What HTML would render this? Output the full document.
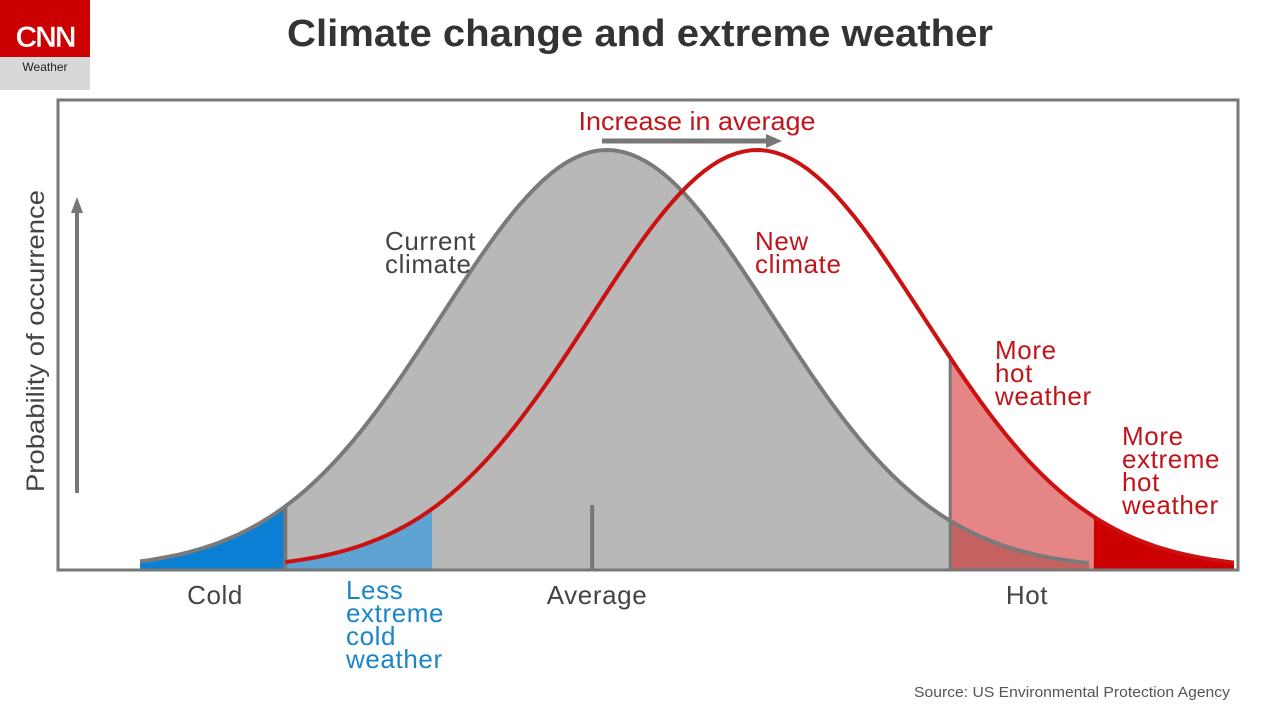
<!DOCTYPE html>
<html><head><meta charset="utf-8"><style>
html,body{margin:0;padding:0;background:#fff;}
body{width:1280px;height:720px;overflow:hidden;font-family:"Liberation Sans",sans-serif;}
svg text{font-family:"Liberation Sans",sans-serif;}
</style></head><body>
<svg id="chart" width="1280" height="720" viewBox="0 0 1280 720">
<g>
<rect x="0" y="0" width="90" height="57" fill="#cc0000"/>
<rect x="0" y="57" width="90" height="33" fill="#d8d8d8"/>
<text x="45" y="47" text-anchor="middle" font-size="30" font-weight="bold" fill="#fff" stroke="#cc0000" stroke-width="0.5" letter-spacing="-2">CNN</text>
<text x="45" y="71" text-anchor="middle" font-size="12" fill="#222">Weather</text>
</g>
<text x="640" y="46" text-anchor="middle" font-size="38" font-weight="bold" fill="#333" textLength="706" lengthAdjust="spacingAndGlyphs">Climate change and extreme weather</text>
<g id="plot"></g>
<rect x="58" y="100" width="1180" height="470" fill="none" stroke="#777" stroke-width="3"/>
<g>
<line x1="77" y1="493" x2="77" y2="212" stroke="#777" stroke-width="4"/>
<polygon points="71,213 83,213 77,197" fill="#777"/>
</g>
<text transform="translate(44,341) rotate(-90)" text-anchor="middle" font-size="25" fill="#444" textLength="302" lengthAdjust="spacingAndGlyphs">Probability of occurrence</text>
<g>
<line x1="602" y1="141" x2="768" y2="141" stroke="#777" stroke-width="5"/>
<polygon points="766,134 782,141 766,148" fill="#777"/>
</g>
<text x="697" y="130" text-anchor="middle" font-size="26" fill="#c0151b" textLength="237" lengthAdjust="spacingAndGlyphs">Increase in average</text>
<g font-size="26" letter-spacing="0.6">
<text fill="#444"><tspan x="385" y="250">Current</tspan><tspan x="385" y="273">climate</tspan></text>
<text fill="#c0151b"><tspan x="755" y="250">New</tspan><tspan x="755" y="273">climate</tspan></text>
<text fill="#c0151b"><tspan x="995" y="359">More</tspan><tspan x="995" y="382">hot</tspan><tspan x="995" y="405">weather</tspan></text>
<text fill="#c0151b"><tspan x="1122" y="445">More</tspan><tspan x="1122" y="468">extreme</tspan><tspan x="1122" y="491">hot</tspan><tspan x="1122" y="514">weather</tspan></text>
<text fill="#1a86c8"><tspan x="346" y="599">Less</tspan><tspan x="346" y="622">extreme</tspan><tspan x="346" y="645">cold</tspan><tspan x="346" y="668">weather</tspan></text>
<text x="215" y="604" text-anchor="middle" fill="#444">Cold</text>
<text x="597" y="604" text-anchor="middle" fill="#444">Average</text>
<text x="1027" y="604" text-anchor="middle" fill="#444">Hot</text>
</g>
<text x="1230" y="697" text-anchor="end" font-size="15" fill="#555" textLength="316" lengthAdjust="spacingAndGlyphs">Source: US Environmental Protection Agency</text>
</svg>
<script>
// distribution parameters (standardized units)
const curveNames = ["current", "new"];
const curveMeans = [0, 0.91];
const curveSigmas = [1, 1];
const curvePeaks = [1, 1];
const curveStarts = [-2.83, -1.95];
const curveEnds = [2.92, 3.8];
// thresholds
const coldThreshold = -1.95;
const lessColdThreshold = -1.06;
const hotThreshold = 2.08;
const extremeHotThreshold = 2.95;
const averageValue = -0.09;

const X0 = 607, XS = 165, Y0 = 569, YS = 419;
function xs(v){return X0 + v*XS;}
function ys(p){return Y0 - p*YS;}
function dens(i,v){const d=(v-curveMeans[i])/curveSigmas[i];return curvePeaks[i]*Math.exp(-d*d/2);}
function pts(i,a,b){const out=[];const n=120;for(let k=0;k<=n;k++){const v=a+(b-a)*k/n;out.push(xs(v).toFixed(1)+","+ys(dens(i,v)).toFixed(1));}return out;}
function area(i,a,b){return "M"+xs(a)+","+Y0+" L"+pts(i,a,b).join(" L")+" L"+xs(b)+","+Y0+" Z";}
function line(i,a,b){return "M"+pts(i,a,b).join(" L");}
const NS="http://www.w3.org/2000/svg";
const g=document.getElementById("plot");
function add(tag,attrs,name){const e=document.createElementNS(NS,tag);for(const k in attrs)e.setAttribute(k,attrs[k]);


g.appendChild(e);return e;}
add("path",{d:area(0,curveStarts[0],curveEnds[0]),fill:"#b8b8b8"},"current-climate-area");
add("path",{d:area(0,curveStarts[0],coldThreshold),fill:"#0a7fd4"},"cold-area");
add("path",{d:area(1,coldThreshold,lessColdThreshold),fill:"#5ea3d2"},"less-cold-area");
add("path",{d:area(1,hotThreshold,extremeHotThreshold),fill:"#e58585"},"more-hot-area");
add("path",{d:area(0,hotThreshold,curveEnds[0]),fill:"#c46262"},"overlap-hot-area");
add("path",{d:area(1,extremeHotThreshold,curveEnds[1]),fill:"#cc0000"},"extreme-hot-area");
add("line",{x1:xs(coldThreshold),x2:xs(coldThreshold),y1:ys(dens(0,coldThreshold)),y2:Y0,stroke:"#777","stroke-width":4},"cold-divider");
add("line",{x1:xs(hotThreshold),x2:xs(hotThreshold),y1:ys(dens(1,hotThreshold)),y2:Y0,stroke:"#777","stroke-width":3},"hot-divider");
add("line",{x1:xs(averageValue),x2:xs(averageValue),y1:505,y2:Y0,stroke:"#777","stroke-width":4},"average-tick");
add("path",{d:line(0,curveStarts[0],curveEnds[0]),fill:"none",stroke:"#7a7a7a","stroke-width":4},"current-climate-curve");
add("path",{d:line(1,curveStarts[1],curveEnds[1]),fill:"none",stroke:"#cc1111","stroke-width":4},"new-climate-curve");
</script>
</body></html>
